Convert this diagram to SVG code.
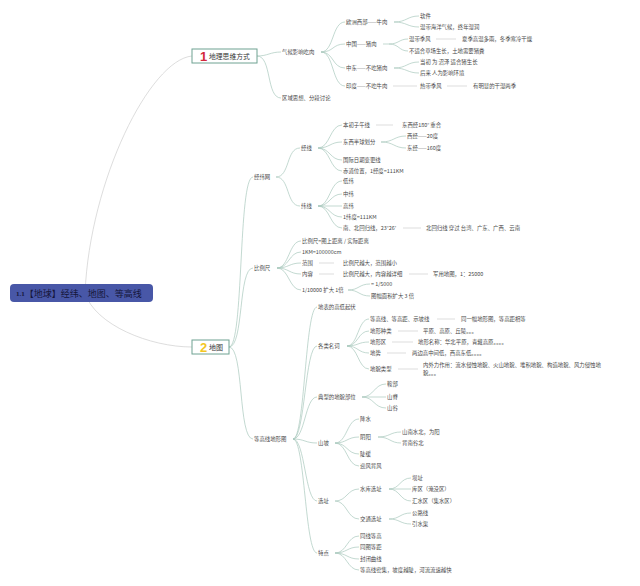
<svg xmlns="http://www.w3.org/2000/svg" width="640" height="586" viewBox="0 0 640 586">
<style>
.t{font-family:"Noto Sans CJK SC","Noto Sans",sans-serif;font-size:5.4px;fill:#484848;dominant-baseline:central}
.c path{fill:none;stroke:#a9c8bd;stroke-width:0.7}
.c .g{stroke:#cfcfcf}
.box{fill:#fff;stroke:#6fa292;stroke-width:1}
</style>
<rect width="640" height="586" fill="#fff"/>
<g class="c" id="connectors">
<path class="g" d="M85,293 C90,180 150,60 192,56"/>
<path class="g" d="M85,293 C95,325 150,347 192,347"/>
<path d="M257,56 C268,56 270,52 281,52"/>
<path d="M257,56 C272,56 266,98 281,98"/>
<path d="M321,52 C334,52 332,22 345,22"/>
<path d="M321,52 C334,52 332,44 345,44"/>
<path d="M321,52 C334,52 332,68 345,68"/>
<path d="M321,52 C334,52 332,86 345,86"/>
<path d="M394,22 C407,22 407,16 419,16"/>
<path d="M394,22 C407,22 407,27 419,27"/>
<path d="M383,44 L389,44"/>
<path d="M389,44 C399,44 399,39 408,39"/>
<path d="M389,44 C399,44 399,51 408,51"/>
<path d="M394,68 C407,68 407,62 419,62"/>
<path d="M394,68 C407,68 407,73 419,73"/>
<path class="g" d="M393,86 L417,86"/>
<path class="g" d="M447,86 L467,86"/>
<path class="g" d="M436,39 L456,39"/>
<path d="M229,347 C244,347 238,177 253,177"/>
<path d="M229,347 C244,347 238,268 253,268"/>
<path d="M229,347 C244,347 238,439 253,439"/>
<path d="M276,177 C290,177 286,148 300,148"/>
<path d="M276,177 C290,177 286,206 300,206"/>
<path d="M318,148 C330,148 330,125 342,125"/>
<path d="M318,148 C330,148 330,142 342,142"/>
<path d="M318,148 C330,148 330,160 342,160"/>
<path d="M318,148 C330,148 330,171 342,171"/>
<path d="M318,206 C330,206 330,181 342,181"/>
<path d="M318,206 C330,206 330,194 342,194"/>
<path d="M318,206 L342,206"/>
<path d="M318,206 C330,206 330,217 342,217"/>
<path d="M318,206 C330,206 330,228 342,228"/>
<path class="g" d="M376,125 L393,125"/>
<path d="M381,142 C394,142 394,136 406,136"/>
<path d="M381,142 C394,142 394,148 406,148"/>
<path class="g" d="M403,228 L421,228"/>
<path d="M277,268 C289,268 289,241 301,241"/>
<path d="M277,268 C289,268 289,252 301,252"/>
<path d="M277,268 C289,268 289,263 301,263"/>
<path d="M277,268 C289,268 289,274 301,274"/>
<path d="M277,268 C289,268 289,290 301,290"/>
<path class="g" d="M319,263 L334,263"/>
<path class="g" d="M319,274 L334,274"/>
<path class="g" d="M409,274 L428,274"/>
<path d="M348,290 C359,290 359,284 370,284"/>
<path d="M348,290 C359,290 359,296 370,296"/>
<path d="M293,439 C305,439 305,307 317,307"/>
<path d="M293,439 C305,439 305,346 317,346"/>
<path d="M293,439 C305,439 305,397 317,397"/>
<path d="M293,439 C305,439 305,443 317,443"/>
<path d="M293,439 C305,439 305,501 317,501"/>
<path d="M293,439 C305,439 305,553 317,553"/>
<path d="M347,346 C358,346 358,319 369,319"/>
<path d="M347,346 C358,346 358,331 369,331"/>
<path d="M347,346 C358,346 358,342 369,342"/>
<path d="M347,346 C358,346 358,353 369,353"/>
<path d="M347,346 C358,346 358,369 369,369"/>
<path class="g" d="M437,319 L455,319"/>
<path class="g" d="M398,331 L418,331"/>
<path class="g" d="M392,342 L413,342"/>
<path class="g" d="M387,353 L406,353"/>
<path class="g" d="M398,369 L418,369"/>
<path d="M362,397 C374,397 374,384 386,384"/>
<path d="M362,397 L386,397"/>
<path d="M362,397 C374,397 374,408 386,408"/>
<path d="M335,443 C347,443 347,419 359,419"/>
<path d="M335,443 C347,443 347,437 359,437"/>
<path d="M335,443 C347,443 347,454 359,454"/>
<path d="M335,443 C347,443 347,466 359,466"/>
<path d="M378,437 C390,437 390,432 401,432"/>
<path d="M378,437 C390,437 390,443 401,443"/>
<path d="M335,501 C347,501 347,489 359,489"/>
<path d="M335,501 C347,501 347,519 359,519"/>
<path d="M389,489 C400,489 400,478 411,478"/>
<path d="M389,489 L411,489"/>
<path d="M389,489 C400,489 400,501 411,501"/>
<path d="M389,519 C400,519 400,513 411,513"/>
<path d="M389,519 C400,519 400,524 411,524"/>
<path d="M335,553 C347,553 347,536 359,536"/>
<path d="M335,553 C347,553 347,547 359,547"/>
<path d="M335,553 C347,553 347,559 359,559"/>
<path d="M335,553 C347,553 347,570 359,570"/>
</g>
<g id="root">
<rect x="10" y="284" width="143" height="18" rx="4" fill="#4857a7"/>
<text x="16" y="293.5" style="dominant-baseline:central" font-family="Noto Sans CJK SC,sans-serif" font-size="9" fill="#15163a"><tspan font-family="Liberation Serif,serif" font-size="7" font-weight="bold">1.1</tspan>【地球】经纬、地图、等高线</text>
</g>
<g id="n1">
<rect class="box" x="192" y="49" width="65" height="14"/>
<text x="200" y="56.5" style="dominant-baseline:central" font-family="Liberation Sans,sans-serif" font-size="13" font-weight="bold" fill="#d3283b">1</text>
<text x="209" y="56" style="dominant-baseline:central" font-family="Noto Sans CJK SC,sans-serif" font-size="6.8" fill="#333">地理思维方式</text>
</g>
<g id="n2">
<rect class="box" x="192" y="340" width="37" height="14"/>
<text x="200" y="347.5" style="dominant-baseline:central" font-family="Liberation Sans,sans-serif" font-size="13" font-weight="bold" fill="#f3c623">2</text>
<text x="209" y="347" style="dominant-baseline:central" font-family="Noto Sans CJK SC,sans-serif" font-size="7" fill="#333">地图</text>
</g>
<g id="n1-children">
<g id="qihou"><text class="t" x="282" y="52">气候影响吃肉</text></g>
<g id="quyu"><text class="t" x="282" y="98">区域思想、分段讨论</text></g>
<g id="ouzhou"><text class="t" x="346" y="22">欧洲西部——牛肉</text></g>
<g id="ruanjian"><text class="t" x="420" y="16">软件</text></g>
<g id="wendaihy"><text class="t" x="420" y="27">温带海洋气候，终年湿润</text></g>
<g id="zhongguo"><text class="t" x="346" y="44">中国——猪肉</text></g>
<g id="wendaijf"><text class="t" x="409" y="39">温带季风</text></g>
<g id="xiaji"><text class="t" x="462" y="39">夏季高温多雨，冬季寒冷干燥</text></g>
<g id="bushihe"><text class="t" x="409" y="51">不适合草场生长，土地需要猪粪</text></g>
<g id="zhongdong"><text class="t" x="346" y="68">中东——不吃猪肉</text></g>
<g id="dangchu"><text class="t" x="420" y="62">当初 为 沼泽 适合猪生长</text></g>
<g id="houlai"><text class="t" x="420" y="73">后来 人为影响环境</text></g>
<g id="yindu"><text class="t" x="346" y="86">印度——不吃牛肉</text></g>
<g id="redai"><text class="t" x="420" y="86">热带季风</text></g>
<g id="ganshi"><text class="t" x="473" y="86">有明显的干湿两季</text></g>
</g>
<g id="jingwei">
<g id="jwn"><text class="t" x="254" y="177">经纬网</text></g>
<g id="jx"><text class="t" x="301" y="148">经线</text></g>
<g id="bczw"><text class="t" x="343" y="125">本初子午线</text></g>
<g id="dxj"><text class="t" x="402" y="125">东西经180° 重合</text></g>
<g id="dxbq"><text class="t" x="343" y="142">东西半球划分</text></g>
<g id="xijing"><text class="t" x="407" y="136">西经——20度</text></g>
<g id="dongjing"><text class="t" x="407" y="148">东经——160度</text></g>
<g id="gjrq"><text class="t" x="343" y="160">国际日期变更线</text></g>
<g id="chidao"><text class="t" x="343" y="171">赤道位置，1经度=111KM</text></g>
<g id="wx"><text class="t" x="301" y="206">纬线</text></g>
<g id="diwei"><text class="t" x="343" y="181">低纬</text></g>
<g id="zhongwei"><text class="t" x="343" y="194">中纬</text></g>
<g id="gaowei"><text class="t" x="343" y="206">高纬</text></g>
<g id="wd111"><text class="t" x="343" y="217">1纬度=111KM</text></g>
<g id="hgx"><text class="t" x="343" y="228">南、北回归线，23°26′</text></g>
<g id="bhgx"><text class="t" x="426" y="228">北回归线 穿过 台湾、广东、广西、云南</text></g>
</g>
<g id="bili">
<g id="blc"><text class="t" x="254" y="268">比例尺</text></g>
<g id="blc1"><text class="t" x="302" y="241">比例尺=图上距离 / 实际距离</text></g>
<g id="blc2"><text class="t" x="302" y="252">1KM=100000cm</text></g>
<g id="fanwei"><text class="t" x="302" y="263">范围</text></g>
<g id="fanwei2"><text class="t" x="343" y="263">比例尺越大，范围越小</text></g>
<g id="neirong"><text class="t" x="302" y="274">内容</text></g>
<g id="neirong2"><text class="t" x="343" y="274">比例尺越大，内容越详细</text></g>
<g id="junyong"><text class="t" x="433" y="274">军用地图，1：25000</text></g>
<g id="kuoda"><text class="t" x="302" y="290">1/10000 扩大 1倍</text></g>
<g id="k5000"><text class="t" x="371" y="284">= 1/5000</text></g>
<g id="tufu"><text class="t" x="371" y="296">图幅面积扩大 3 倍</text></g>
</g>
<g id="dgx">
<g id="dgxdxt"><text class="t" x="254" y="439">等高线地形图</text></g>
<g id="dbgd"><text class="t" x="318" y="307">地表的高低起伏</text></g>
<g id="glmc"><text class="t" x="318" y="346">各类名词</text></g>
<g id="m1"><text class="t" x="370" y="319">等高线、等高距、示坡线</text></g>
<g id="m1b"><text class="t" x="461" y="319">同一幅地形图，等高距相等</text></g>
<g id="m2"><text class="t" x="370" y="331">地形种类</text></g>
<g id="m2b"><text class="t" x="423" y="331">平原、高原、丘陵。。。</text></g>
<g id="m3"><text class="t" x="370" y="342">地形区</text></g>
<g id="m3b"><text class="t" x="418" y="342">地形名称：华北平原，青藏高原。。。。</text></g>
<g id="m4"><text class="t" x="370" y="353">地势</text></g>
<g id="m4b"><text class="t" x="412" y="353">两边高中间低，西高东低。。。。</text></g>
<g id="m5"><text class="t" x="370" y="369">地貌类型</text></g>
<g id="m5b"><text class="t" x="423" y="365">内外力作用：流水侵蚀地貌、火山地貌、堆积地貌、构造地貌、风力侵蚀地</text><text class="t" x="423" y="373">貌。。。</text></g>
<g id="dxbw"><text class="t" x="318" y="397">典型的地貌部位</text></g>
<g id="anbu"><text class="t" x="387" y="384">鞍部</text></g>
<g id="shanji"><text class="t" x="387" y="397">山脊</text></g>
<g id="shangu"><text class="t" x="387" y="408">山谷</text></g>
<g id="shanpo"><text class="t" x="318" y="443">山坡</text></g>
<g id="jiangshui"><text class="t" x="360" y="419">降水</text></g>
<g id="yinyang"><text class="t" x="360" y="437">阴阳</text></g>
<g id="snsb"><text class="t" x="402" y="432">山南水北，为阳</text></g>
<g id="bngb"><text class="t" x="402" y="443">背南谷北</text></g>
<g id="douhuan"><text class="t" x="360" y="454">陡缓</text></g>
<g id="yingfeng"><text class="t" x="360" y="466">迎风背风</text></g>
<g id="xuanzhi"><text class="t" x="318" y="501">选址</text></g>
<g id="shuiku"><text class="t" x="360" y="489">水库选址</text></g>
<g id="bazhi"><text class="t" x="412" y="478">坝址</text></g>
<g id="kuqu"><text class="t" x="412" y="489">库区（淹没区）</text></g>
<g id="huishui"><text class="t" x="412" y="501">汇水区（集水区）</text></g>
<g id="jiaotong"><text class="t" x="360" y="519">交通选址</text></g>
<g id="gonglu"><text class="t" x="412" y="513">公路线</text></g>
<g id="yinshui"><text class="t" x="412" y="524">引水渠</text></g>
<g id="tedian"><text class="t" x="318" y="553">特点</text></g>
<g id="td1"><text class="t" x="360" y="536">同线等高</text></g>
<g id="td2"><text class="t" x="360" y="547">同图等距</text></g>
<g id="td3"><text class="t" x="360" y="559">封闭曲线</text></g>
<g id="td4"><text class="t" x="360" y="570">等高线密集，坡度越陡，河流流速越快</text></g>
</g>
</svg>
